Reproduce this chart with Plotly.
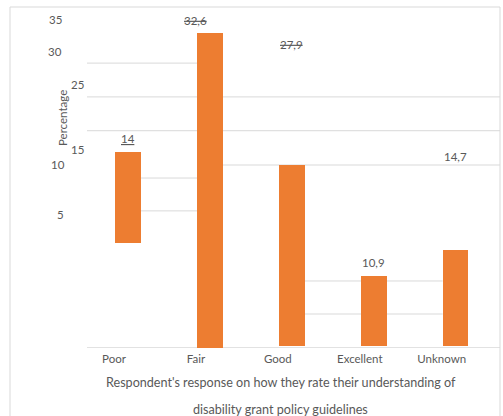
import plotly.graph_objects as go

# ---- data ----
categories = ["Poor", "Fair", "Good", "Excellent", "Unknown"]
percentages = [14, 32.6, 27.9, 10.9, 14.7]
label_text = ["14", "32,6", "27,9", "10,9", "14,7"]
bar_top = [20.3, 32.6, 18.9, 7.5, 10.1]
bar_base = [10.9, 0, 0.2, 0.2, 0.2]
ytick_labels = ["35", "30", "25", "15", "10", "5"]

# ---- style ----
W, H = 503, 416
L, R, T, B = 87, 3, 10, 68
PW, PH = W - L - R, H - T - B
ORANGE = "#ED7D31"
TXT = "#595959"
GRID = "#D9D9D9"
FONT = "Lato"


def px(xp):
    return (xp - L) / PW


def py(yp):
    return (H - B - yp) / PH


fig = go.Figure()
fig.add_trace(go.Bar(
    x=categories,
    y=[t - b for t, b in zip(bar_top, bar_base)],
    base=bar_base,
    marker=dict(color=ORANGE, line=dict(width=0)),
    width=0.31,
    hoverinfo="skip",
))

shapes = []
# broken gridline segments (y value, x from, x to) in axis units
grid_segments = [
    (29.5, -0.5, 0.86), (26.0, -0.5, 4.54), (22.5, -0.5, 4.54),
    (18.95, 1.15, 4.54), (17.6, 0.16, 0.86), (14.2, 0.16, 0.86),
    (6.94, 2.16, 3.84), (3.52, 2.16, 3.84),
]
for yv, x0, x1 in grid_segments:
    shapes.append(dict(type="line", xref="x", yref="y", x0=x0, x1=x1, y0=yv, y1=yv,
                       line=dict(color=GRID, width=1), layer="below"))
shapes.append(dict(type="line", xref="x", yref="y", x0=-0.5, x1=4.54, y0=0, y1=0,
                   line=dict(color=GRID, width=1.5), layer="below"))
# outer chart border
shapes.append(dict(type="rect", xref="paper", yref="paper",
                   x0=px(10), x1=px(500), y0=py(7), y1=py(440),
                   line=dict(color=GRID, width=1), fillcolor="rgba(0,0,0,0)", layer="below"))

annotations = []
# data labels (offset from bar top in px)
label_offsets = [(0, 13), (-14, 13), (0, 121), (0, 13), (0, 94)]
label_fmt = ["<u>{}</u>", "<s>{}</s>", "<s>{}</s>", "{}", "{}"]
for i, (c, t) in enumerate(zip(categories, label_text)):
    dx, dy = label_offsets[i]
    annotations.append(dict(x=c, y=bar_top[i], xref="x", yref="y",
                            text=label_fmt[i].format(t), showarrow=False,
                            xshift=dx, yshift=dy, yanchor="middle",
                            font=dict(family=FONT, size=11.5, color=TXT)))
# misplaced y tick labels
ytick_pos = [(55, 19), (55, 52), (77, 84), (77, 149), (57.5, 164), (60, 214)]
for t, (xx, yy) in zip(ytick_labels, ytick_pos):
    annotations.append(dict(x=px(xx), y=py(yy), xref="paper", yref="paper", text=t,
                            showarrow=False, xanchor="center", yanchor="middle",
                            font=dict(family=FONT, size=11.5, color=TXT)))
# y title
annotations.append(dict(x=px(63), y=py(118), xref="paper", yref="paper", text="Percentage",
                        textangle=-90, showarrow=False, xanchor="center", yanchor="middle",
                        font=dict(family=FONT, size=11.5, color=TXT)))
# x title (two lines)
for txt, yy in [("Respondent's response on how they rate their understanding of", 382),
                ("disability grant policy guidelines", 409)]:
    annotations.append(dict(x=px(280.5), y=py(yy), xref="paper", yref="paper", text=txt,
                            showarrow=False, xanchor="center", yanchor="middle",
                            font=dict(family=FONT, size=12.6, color=TXT)))

fig.update_layout(
    width=W, height=H,
    margin=dict(l=L, r=R, t=T, b=B),
    paper_bgcolor="white", plot_bgcolor="white",
    showlegend=False,
    bargap=0,
    xaxis=dict(type="category", range=[-0.5, 4.54], showgrid=False, showline=False,
               zeroline=False, ticks="", ticklabelshift=-14, ticklabelstandoff=2,
               tickfont=dict(family=FONT, size=11.5, color=TXT), fixedrange=True),
    yaxis=dict(range=[0, 35], showgrid=False, showline=False, zeroline=False,
               showticklabels=False, ticks="", fixedrange=True),
    shapes=shapes,
    annotations=annotations,
)

fig.write_html("out.html")
